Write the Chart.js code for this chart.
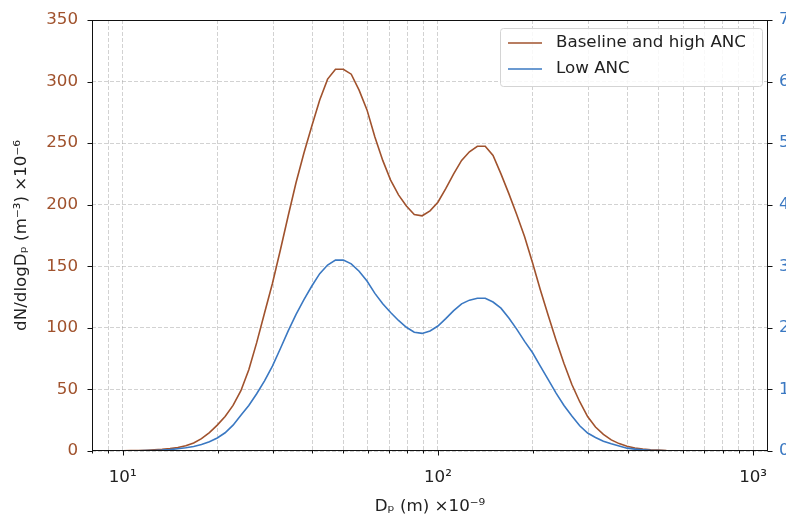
<!DOCTYPE html>
<html><head><meta charset="utf-8">
<script src="https://cdn.jsdelivr.net/npm/chart.js@4.4.1/dist/chart.umd.min.js"></script>
<style>
html,body{margin:0;padding:0;background:#fff;overflow:hidden;width:786px;height:515px}
#wrap{position:absolute;left:0;top:0;width:820px;height:515px}
</style>
</head><body><div id="wrap"><canvas id="c" width="820" height="515"></canvas></div>
<script>
// Particle diameter (nm)
const diameters = [10.00,10.59,11.22,11.89,12.59,13.34,14.13,14.96,15.85,16.79,17.78,18.84,19.95,21.13,22.39,23.71,25.12,26.61,28.18,29.85,31.62,33.50,35.48,37.58,39.81,42.17,44.67,47.32,50.12,53.09,56.23,59.57,63.10,66.83,70.79,74.99,79.43,84.14,89.13,94.41,100.0,105.9,112.2,118.9,125.9,133.4,141.3,149.6,158.5,167.9,177.8,188.4,199.5,211.3,223.9,237.1,251.2,266.1,281.8,298.5,316.2,335.0,354.8,375.8,398.1,421.7,446.7,473.2,501.2,530.9,562.3,595.7,631.0,668.3,707.9,749.9,794.3,841.4,891.3];
// Baseline and high ANC (left axis)
const baselineHighANC = [0.2,0.3,0.4,0.6,0.9,1.3,1.9,2.8,4.2,6.5,10,15,21,28,37,49,66,88,112,136,163,191,218,242,264,285,302,310,310,306,293,277,255,236,220,208,199,192,191,195,202,213,225,236,243,247.5,247.5,240,225,209,192,174,153,131,110,90,71,54,40,28,19.5,13.5,9,6,3.8,2.5,1.6,1.0,0.7,0.4,0.25,0.15,0.1,0.06,0.04,0.02,0.01,0.01,0];
// Low ANC (right axis)
const lowANC = [0.002,0.003,0.004,0.006,0.009,0.014,0.022,0.036,0.052,0.074,0.104,0.15,0.212,0.296,0.42,0.58,0.74,0.93,1.14,1.38,1.66,1.95,2.22,2.46,2.68,2.88,3.02,3.10,3.10,3.04,2.92,2.76,2.56,2.39,2.25,2.12,2.01,1.93,1.91,1.95,2.03,2.15,2.28,2.39,2.45,2.48,2.48,2.42,2.32,2.16,1.98,1.78,1.60,1.38,1.16,0.94,0.74,0.57,0.41,0.292,0.22,0.16,0.116,0.08,0.046,0.03,0.02,0.012,0.008,0.005,0.003,0.002,0.0012,0.0008,0.0006,0.0004,0.0002,0.0002,0];
const seriesLabels = ['Baseline and high ANC','Low ANC'];
const xTickValues = [8,9,10,20,30,40,50,60,70,80,90,100,200,300,400,500,600,700,800,900,1000];
const xMajorTicks = [10,100,1000];
const xTickLabels = {10:'10\u00B9',100:'10\u00B2',1000:'10\u00B3'};
const leftTicks = [0,50,100,150,200,250,300,350];
const rightTicks = [0,1,2,3,4,5,6,7];
const xTitle = 'D\u209A (m) \u00D710\u207B\u2079';
const yTitle = 'dN/dlogD\u209A (m\u207B\u00B3) \u00D710\u207B\u2076';

const BROWN = '#a0522d', BLUE = '#3a78c2', INK = '#222';
const FONT = "'DejaVu Sans', sans-serif";
const FS = 16.7;
const GRID = 'rgba(160,160,160,0.6)';

const frameTicks = {
  id:'frameTicks',
  afterDraw(chart){
    const {ctx, chartArea:a, scales} = chart;
    ctx.save();
    ctx.strokeStyle = '#111'; ctx.lineWidth = 1;
    const L = Math.round(a.left)+0.5, R = Math.round(a.right)-0.5, T = Math.round(a.top)+0.5, B = Math.round(a.bottom)-0.5;
    ctx.strokeRect(L, T, R-L, B-T);
    ctx.beginPath();
    scales.x.ticks.forEach(t=>{
      const px = Math.round(scales.x.getPixelForValue(t.value))+0.5;
      const len = xMajorTicks.includes(t.value) ? 5 : 3;
      ctx.moveTo(px, B); ctx.lineTo(px, B+len);
    });
    scales.y.ticks.forEach(t=>{
      const py = Math.round(scales.y.getPixelForValue(t.value))+0.5;
      ctx.moveTo(L, py); ctx.lineTo(L-5, py);
    });
    scales.y2.ticks.forEach(t=>{
      const py = Math.round(scales.y2.getPixelForValue(t.value))+0.5;
      ctx.moveTo(R, py); ctx.lineTo(R+5, py);
    });
    ctx.stroke();
    // legend
    const bx = 500.5, by = 28.5, bw = 262, bh = 58, r = 3;
    ctx.beginPath();
    ctx.moveTo(bx+r, by); ctx.lineTo(bx+bw-r, by); ctx.arcTo(bx+bw, by, bx+bw, by+r, r);
    ctx.lineTo(bx+bw, by+bh-r); ctx.arcTo(bx+bw, by+bh, bx+bw-r, by+bh, r);
    ctx.lineTo(bx+r, by+bh); ctx.arcTo(bx, by+bh, bx, by+bh-r, r);
    ctx.lineTo(bx, by+r); ctx.arcTo(bx, by, bx+r, by, r); ctx.closePath();
    ctx.fillStyle = 'rgba(255,255,255,0.85)'; ctx.fill();
    ctx.strokeStyle = '#d4d4d4'; ctx.lineWidth = 1; ctx.stroke();
    const ds = chart.data.datasets;
    const rows = [43, 69];
    ds.forEach((d, i)=>{
      ctx.strokeStyle = d.borderColor; ctx.lineWidth = 1.6;
      ctx.beginPath(); ctx.moveTo(508, rows[i]); ctx.lineTo(542, rows[i]); ctx.stroke();
      ctx.fillStyle = INK; ctx.font = FS + 'px ' + FONT; ctx.textBaseline = 'middle'; ctx.textAlign = 'left';
      ctx.fillText(d.label, 556, rows[i]);
    });
    ctx.restore();
  }
};

function noPad(s){ s.paddingTop = 0; s.paddingBottom = 0; s.paddingLeft = 0; s.paddingRight = 0; }

new Chart(document.getElementById('c'), {
  type:'line',
  data:{datasets:[
    {label:seriesLabels[0], data:diameters.map((d,i)=>({x:d,y:baselineHighANC[i]})), borderColor:BROWN, borderWidth:1.6, pointRadius:0, tension:0, yAxisID:'y', order:1},
    {label:seriesLabels[1], data:diameters.map((d,i)=>({x:d,y:lowANC[i]})), borderColor:BLUE, borderWidth:1.6, pointRadius:0, tension:0, yAxisID:'y2', order:0}
  ]},
  options:{
    responsive:false, animation:false, devicePixelRatio:1,
    layout:{padding:{top:20,left:0,right:0,bottom:0}},
    plugins:{legend:{display:false}, tooltip:{enabled:false}},
    scales:{
      x:{type:'logarithmic', position:'bottom', min:7.99, max:1115,
        afterBuildTicks:(s)=>{ s.ticks = xTickValues.map(v=>({value:v})); },
        afterFit:(s)=>{ s.height = 64; noPad(s); },
        grid:{color:GRID, lineWidth:0.8, drawTicks:false},
        border:{display:false, dash:[4,2]},
        ticks:{autoSkip:false, maxRotation:0, padding:17, color:INK, font:{family:FONT,size:FS},
          callback:(v)=> xTickLabels[v] || ''},
        title:{display:true, text:xTitle, color:INK, font:{family:FONT,size:FS}, padding:{top:0,bottom:-2}}
      },
      y:{position:'left', min:0, max:350,
        afterBuildTicks:(s)=>{ s.ticks = leftTicks.map(v=>({value:v})); },
        afterFit:(s)=>{ s.width = 92; noPad(s); },
        grid:{color:GRID, lineWidth:0.8, drawTicks:false},
        border:{display:false, dash:[4,2]},
        ticks:{padding:14, color:BROWN, font:{family:FONT,size:FS}},
        title:{display:true, text:yTitle, color:INK, font:{family:FONT,size:FS}, padding:{top:11.5,bottom:0}}
      },
      y2:{position:'right', min:0, max:7,
        afterBuildTicks:(s)=>{ s.ticks = rightTicks.map(v=>({value:v})); },
        afterFit:(s)=>{ s.width = 52; noPad(s); },
        grid:{drawOnChartArea:false, drawTicks:false},
        border:{display:false},
        ticks:{padding:11, color:BLUE, font:{family:FONT,size:FS}}
      }
    }
  },
  plugins:[frameTicks]
});
</script>
</body></html>
